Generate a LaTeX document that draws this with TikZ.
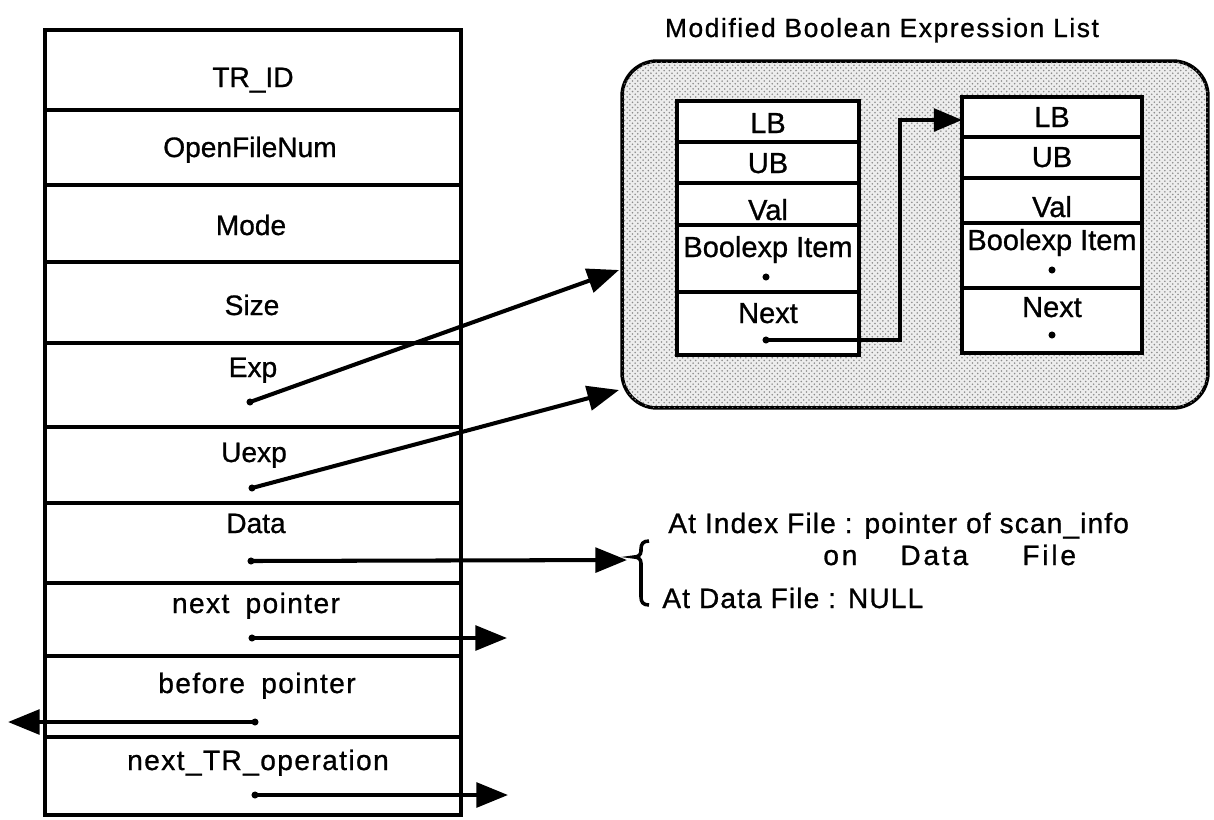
\documentclass[tikz,border=0pt]{standalone}
\usepackage{fontspec}
\setmainfont{Liberation Sans}[FakeBold=0.9]
\usetikzlibrary{arrows.meta,patterns}

\begin{document}
\begin{tikzpicture}[x=0.02cm,y=-0.02cm,
  grid/.style={line width=2pt},
  tbl/.style={font=\fontsize{16}{19}\selectfont, inner sep=0pt, anchor=base},
  tblsp/.style={inner sep=0pt, anchor=base,
    font=\fontsize{16}{19}\selectfont\addfontfeatures{LetterSpace=5}},
  rec/.style={font=\fontsize{16.5}{19}\selectfont, inner sep=0pt, anchor=base},
  ttl/.style={font=\fontsize{15}{18}\selectfont\addfontfeatures{LetterSpace=6},
    inner sep=0pt, anchor=base},
  note/.style={font=\fontsize{16}{19}\selectfont\addfontfeatures{LetterSpace=4},
    inner sep=0pt, anchor=base west},
  notewide/.style={font=\fontsize{16}{19}\selectfont\addfontfeatures{LetterSpace=10},
    inner sep=0pt, anchor=base west},
  ptr/.style={circle, fill, inner sep=0pt, minimum size=4pt},
  link/.style={line width=2.3pt, -{Triangle[length=18pt,width=14pt]}},
  thinlink/.style={line width=1.8pt, -{Triangle[length=16pt,width=13pt]}},
]
\useasboundingbox (0,0) rectangle (1214,819);
\fill[white] (0,0) rectangle (1214,819);

% ---- transaction record ----
\draw[grid] (45,30) rectangle (461,815);
\foreach \yy in {110,185,262,343,427,503,583,656,737}
  \draw[grid] (45,\yy) -- (461,\yy);

\node[tbl] (trid) at (253,87) {TR\_ID};
\node[tbl] (ofn) at (250,157) {OpenFileNum};
\node[tbl] (mode) at (251,235) {Mode};
\node[tbl] (size) at (252,315) {Size};
\node[tbl] (exp) at (253,377) {Exp};
\node[tbl] (uexp) at (254,462) {Uexp};
\node[tbl] (data) at (256,533) {Data};
\node[tblsp] (nextp) at (256,613) {next\hspace{4pt} pointer};
\node[tblsp] (befp) at (257,693) {before\hspace{4pt} pointer};
\node[tblsp] (ntrop) at (258,770) {next\_TR\_operation};

\node[ptr] (dexp) at (250,402) {};
\node[ptr] (duexp) at (252,488) {};
\node[ptr] (ddata) at (251,561) {};
\node[ptr] (dnext) at (252,638) {};
\node[ptr] (dbef) at (255,722) {};
\node[ptr] (dntr) at (255,795) {};

% ---- boolean expression list ----
\node[ttl] (title) at (882,37) {Modified Boolean Expression List};

\node[draw, line width=2pt, rounded corners=0.7cm, inner sep=0pt,
      minimum width=11.72cm, minimum height=6.94cm,
      fill=black!7, postaction={pattern=crosshatch dots, pattern color=black!45}]
      (mbel) at (915,234.5) {};

\draw[grid, fill=white] (677,101) rectangle (859,355);
\foreach \yy in {142,183,225,292} \draw[grid] (677,\yy) -- (859,\yy);
\draw[grid, fill=white] (962,97) rectangle (1142,353);
\foreach \yy in {137,178,223,288} \draw[grid] (962,\yy) -- (1142,\yy);

\node[rec] (lba) at (768,133) {LB};
\node[rec] (uba) at (768,173) {UB};
\node[rec] (vala) at (768,220) {Val};
\node[rec] (bia) at (768,257) {Boolexp Item};
\node[ptr] (dbia) at (766,277) {};
\node[rec] (nxa) at (768,323) {Next};
\node[ptr] (dnxa) at (766,340) {};

\node[rec] (lbb) at (1052,127) {LB};
\node[rec] (ubb) at (1052,167) {UB};
\node[rec] (valb) at (1052,217) {Val};
\node[rec] (bib) at (1052,250) {Boolexp Item};
\node[ptr] (dbib) at (1052,270) {};
\node[rec] (nxb) at (1052,317) {Next};
\node[ptr] (dnxb) at (1052,335) {};

\coordinate (turn) at (900,120);
\coordinate (lbin) at (962,120);
\draw[thinlink] (dnxa.center) -| (turn) -- (lbin);

% ---- pointers out of the record ----
\coordinate (ina) at (619,270);
\coordinate (inb) at (619,390);
\coordinate (brtip) at (627,560);
\coordinate (nextout) at (507,638);
\coordinate (befout) at (8,722);
\coordinate (ntrout) at (508,795);

\draw[link] (dexp.center) -- (ina);
\draw[link] (duexp.center) -- (inb);
\draw[link] (ddata.center) -- (brtip);
\draw[link] (dnext.center) -- (nextout);
\draw[link] (dbef.center) -- (befout);
\draw[link] (dntr.center) -- (ntrout);

% ---- note on the Data field ----
\draw[line width=2pt] (649,541) .. controls (643,541) and (641,544) .. (641,549)
  -- (641,551) .. controls (641,555) and (638,557) .. (634,557)
  .. controls (638,557) and (641,559) .. (641,563)
  -- (641,597) .. controls (641,602) and (643,605) .. (649,605);

\node[note] (idx) at (668,533) {At Index File : pointer of scan\_info};
\node[notewide] (on) at (823,565) {on};
\node[notewide] (dfw) at (900,565) {Data};
\node[notewide] (ffw) at (1022,565) {File};
\node[note] (dfile) at (662,608) {At Data File : NULL};
\end{tikzpicture}
\end{document}
